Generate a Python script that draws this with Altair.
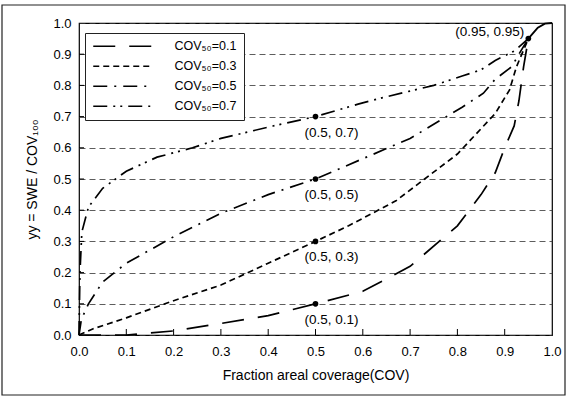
import altair as alt
import pandas as pd

# ---- data ----
series_names = ["COV₅₀=0.1", "COV₅₀=0.3", "COV₅₀=0.5", "COV₅₀=0.7"]

x01 = [0.0, 0.1, 0.2, 0.3, 0.4, 0.5, 0.6, 0.7, 0.8, 0.85, 0.88, 0.9, 0.92, 0.93, 0.94, 0.95]
y01 = [0.0, 0.0, 0.013, 0.037, 0.062, 0.1, 0.14, 0.22, 0.35, 0.45, 0.52, 0.6, 0.67, 0.75, 0.86, 0.95]

x03 = [0.0, 0.03, 0.1, 0.2, 0.3, 0.4, 0.5, 0.57, 0.67, 0.8, 0.88, 0.91, 0.925, 0.95]
y03 = [0.0, 0.02, 0.055, 0.11, 0.16, 0.23, 0.3, 0.35, 0.43, 0.58, 0.71, 0.785, 0.86, 0.95]

x05 = [0.0, 0.005, 0.02, 0.05, 0.1, 0.2, 0.3, 0.4, 0.5, 0.6, 0.7, 0.81, 0.855, 0.88, 0.915, 0.93, 0.95]
y05 = [0.0, 0.05, 0.1, 0.17, 0.23, 0.315, 0.39, 0.45, 0.5, 0.565, 0.63, 0.73, 0.775, 0.82, 0.86, 0.9, 0.95]

x07 = [0.0, 0.002, 0.006, 0.02, 0.05, 0.1, 0.165, 0.24, 0.3, 0.41, 0.5, 0.59, 0.64, 0.75, 0.81, 0.85, 0.88, 0.92, 0.95]
y07 = [0.0, 0.2, 0.33, 0.41, 0.47, 0.525, 0.57, 0.6, 0.63, 0.67, 0.7, 0.74, 0.76, 0.8, 0.83, 0.85, 0.88, 0.91, 0.95]

x_end = [0.95, 0.97, 0.985, 1.0]
y_end = [0.95, 0.985, 0.998, 1.0]

point_x = [0.5, 0.5, 0.5, 0.5, 0.95]
point_y = [0.1, 0.3, 0.5, 0.7, 0.95]
point_labels = ["(0.5, 0.1)", "(0.5, 0.3)", "(0.5, 0.5)", "(0.5, 0.7)", "(0.95, 0.95)"]

tick_values = [0.0, 0.1, 0.2, 0.3, 0.4, 0.5, 0.6, 0.7, 0.8, 0.9, 1.0]
inner_ticks = [0.1, 0.2, 0.3, 0.4, 0.5, 0.6, 0.7, 0.8, 0.9]

dash_patterns = [[22, 14], [6, 4], [14, 7, 2, 7], [14, 6, 2, 5, 2, 6]]

FONT = "Liberation Sans"
W, H = 473, 312

rows = []
for name, xs, ys in zip(series_names, [x01, x03, x05, x07], [y01, y03, y05, y07]):
    for i, (a, b) in enumerate(zip(xs, ys)):
        rows.append({"series": name, "x": a, "y": b, "order": i})
curves = pd.DataFrame(rows)
end_df = pd.DataFrame({"x": x_end, "y": y_end, "order": list(range(len(x_end)))})
pts = pd.DataFrame({"x": point_x, "y": point_y, "label": point_labels})
ticks_df = pd.DataFrame({"v": inner_ticks})

xscale = alt.Scale(domain=[0, 1], nice=False)
yscale = alt.Scale(domain=[0, 1], nice=False)

x_axis = alt.Axis(values=tick_values, format=".1f", title="Fraction areal coverage(COV)",
                  grid=False, domain=False, tickSize=0, labelPadding=10, titlePadding=10,
                  labelFlush=False, labelOverlap=False)
y_axis = alt.Axis(values=tick_values, format=".1f", title="yy = SWE / COV₁₀₀",
                  grid=True, gridDash=[6, 4], gridColor="#333333", gridWidth=0.8,
                  domain=False, tickSize=0, labelPadding=8, titlePadding=13,
                  labelFlush=False, labelOverlap=False)


def X(field="x"):
    return alt.X(f"{field}:Q", scale=xscale, axis=x_axis)


def Y(field="y"):
    return alt.Y(f"{field}:Q", scale=yscale, axis=y_axis)


lines = alt.Chart(curves).mark_line(color="black", strokeWidth=1.7).encode(
    x=X(), y=Y(),
    strokeDash=alt.StrokeDash("series:N",
                              scale=alt.Scale(domain=series_names, range=dash_patterns),
                              legend=alt.Legend(title=None, orient="none", legendX=6, legendY=10,
                                                symbolType="M-1,0H11", symbolSize=100,
                                                symbolStrokeWidth=1.7, symbolStrokeColor="black",
                                                symbolFillColor="transparent",
                                                fillColor="white", strokeColor="#222222",
                                                padding=7, labelOffset=70, rowPadding=7,
                                                labelFont=FONT, labelFontSize=12.5, labelColor="black")),
    order="order:Q",
)

end_line = alt.Chart(end_df).mark_line(color="black", strokeWidth=1.9).encode(
    x=X(), y=Y(), order="order:Q")

dots = alt.Chart(pts).mark_circle(color="black", opacity=1, size=32).encode(x=X(), y=Y())

lbl_mid = alt.Chart(pts.iloc[:4]).mark_text(font=FONT, fontSize=13.5, color="black",
                                             align="center", baseline="middle", dx=16, dy=16).encode(
    x=X(), y=Y(), text="label:N")

lbl_top = alt.Chart(pts.iloc[4:]).mark_text(font=FONT, fontSize=13.5, color="black",
                                             align="right", baseline="middle", dx=-4, dy=-7).encode(
    x=X(), y=Y(), text="label:N")

xticks = alt.Chart(ticks_df).mark_rule(color="black", strokeWidth=1).encode(
    x=X("v"), y=alt.value(H), y2=alt.value(H - 6))
yticks = alt.Chart(ticks_df).mark_rule(color="black", strokeWidth=1).encode(
    y=Y("v"), x=alt.value(0), x2=alt.value(5))

frame = alt.Chart(pd.DataFrame({"a": [0]})).mark_rect(fill=None, stroke="#222222", strokeWidth=1.2).encode(
    x=alt.value(-77), x2=alt.value(486), y=alt.value(-18), y2=alt.value(372))

chart = alt.layer(frame, lines, end_line, xticks, yticks, dots, lbl_mid, lbl_top).properties(
    width=W, height=H,
    padding={"left": 79, "top": 23, "right": 16, "bottom": 63},
    autosize=alt.AutoSizeParams(type="none"),
    background="white",
).configure_view(stroke="black", strokeWidth=1.2).configure_axis(
    labelFont=FONT, labelFontSize=13, labelColor="black",
    titleFont=FONT, titleFontSize=14, titleColor="black", titleFontWeight="normal",
)

chart.save("out.html", embed_options={"renderer": "svg", "actions": False})
